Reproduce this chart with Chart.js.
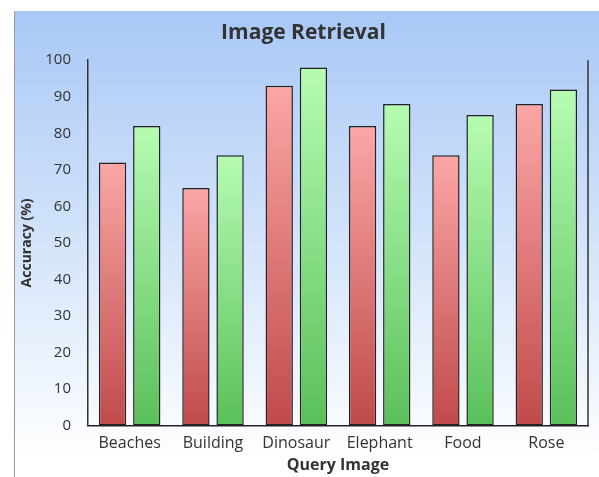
<!DOCTYPE html>
<html lang="en">
<head>
    <meta charset="UTF-8">
    <title>Image Retrieval</title>
    <script src="https://cdn.jsdelivr.net/npm/chart.js"></script>
    <style>
        html, body { margin: 0; padding: 0; background: #fff; }
        #wrap { width: 599px; height: 477px; }
    </style>
</head>
<body>
    <div id="wrap">
        <canvas id="retrievalChart" width="599" height="477"></canvas>
    </div>

    <script>
const categories = ['Beaches', 'Building', 'Dinosaur', 'Elephant', 'Food', 'Rose'];
const seriesA = [72, 65, 93, 82, 74, 88];
const seriesB = [82, 74, 98, 88, 85, 92];
const yTicks = [0, 10, 20, 30, 40, 50, 60, 70, 80, 90, 100];

// per-bar vertical gradient, light at the top of each bar
function barFill(top, bottom) {
    return function (context) {
        const chart = context.chart;
        const y = chart.scales.y;
        if (!y || context.type !== 'data') return bottom;
        const v = context.raw;
        const y0 = y.getPixelForValue(0);
        const y1 = y.getPixelForValue(v);
        if (!isFinite(y0) || !isFinite(y1) || y0 === y1) return bottom;
        const g = chart.ctx.createLinearGradient(0, y1, 0, y0);
        g.addColorStop(0, top);
        g.addColorStop(1, bottom);
        return g;
    };
}

const frame = {
    id: 'frame',
    beforeDraw(chart) {
        const ctx = chart.ctx;
        ctx.save();
        const g = ctx.createLinearGradient(0, 11, 0, 460);
        g.addColorStop(0, '#a9c8f6');
        g.addColorStop(0.5, '#d2e3fa');
        g.addColorStop(1, '#ffffff');
        ctx.fillStyle = g;
        ctx.fillRect(14, 11, chart.width - 14, chart.height - 11);
        ctx.strokeStyle = '#9a9a9a';
        ctx.lineWidth = 1;
        ctx.beginPath();
        ctx.moveTo(14.5, 11);
        ctx.lineTo(14.5, chart.height);
        ctx.stroke();
        ctx.restore();
    },
    afterDraw(chart) {
        const a = chart.chartArea;
        const ctx = chart.ctx;
        ctx.save();
        ctx.strokeStyle = '#333';
        ctx.lineWidth = 1.5;
        ctx.beginPath();
        ctx.moveTo(a.right, a.top);
        ctx.lineTo(a.right, a.bottom);
        ctx.stroke();
        ctx.restore();
    }
};

const ctx = document.getElementById('retrievalChart').getContext('2d');

new Chart(ctx, {
    type: 'bar',
    data: {
        labels: categories,
        datasets: [
            {
                label: 'Series 1',
                data: seriesA,
                backgroundColor: barFill('#fca6a6', '#c04a4a'),
                borderColor: '#222',
                borderWidth: 1.5,
                borderSkipped: false,
                barPercentage: 0.8,
                categoryPercentage: 0.82,
            },
            {
                label: 'Series 2',
                data: seriesB,
                backgroundColor: barFill('#b6fcb2', '#5ac05a'),
                borderColor: '#222',
                borderWidth: 1.5,
                borderSkipped: false,
                barPercentage: 0.8,
                categoryPercentage: 0.82,
            },
        ],
    },
    options: {
        responsive: false,
        animation: false,
        layout: {
            padding: { left: 19, right: 11, top: 16, bottom: 2 },
        },
        plugins: {
            legend: { display: false },
            tooltip: { enabled: false },
            title: {
                display: true,
                text: 'Image Retrieval',
                color: '#333',
                font: { family: 'Open Sans', size: 21, weight: 'bold' },
                padding: { top: 4, bottom: 15 },
            },
        },
        scales: {
            x: {
                grid: { display: false },
                border: { display: true, color: '#222', width: 1.5 },
                ticks: {
                    color: '#333',
                    font: { family: 'Open Sans', size: 16 },
                    padding: 0,
                    maxRotation: 0,
                    autoSkip: false,
                },
                title: {
                    display: true,
                    text: 'Query Image',
                    color: '#333',
                    font: { family: 'Open Sans', size: 16, weight: 'bold' },
                    padding: { top: 3, bottom: 0 },
                },
            },
            y: {
                min: 0,
                max: 100,
                afterBuildTicks(axis) {
                    axis.ticks = yTicks.map(v => ({ value: v }));
                },
                afterFit(axis) {
                    axis.width = 69;
                },
                grid: { display: false },
                border: { display: true, color: '#333', width: 1.5 },
                ticks: {
                    color: '#333',
                    font: { family: 'Open Sans', size: 15 },
                    padding: 9,
                },
                title: {
                    display: true,
                    text: 'Accuracy (%)',
                    color: '#333',
                    font: { family: 'Open Sans', size: 14, weight: 'bold' },
                    padding: { top: 0, bottom: 0 },
                },
            },
        },
    },
    plugins: [frame],
});
    </script>
</body>
</html>
